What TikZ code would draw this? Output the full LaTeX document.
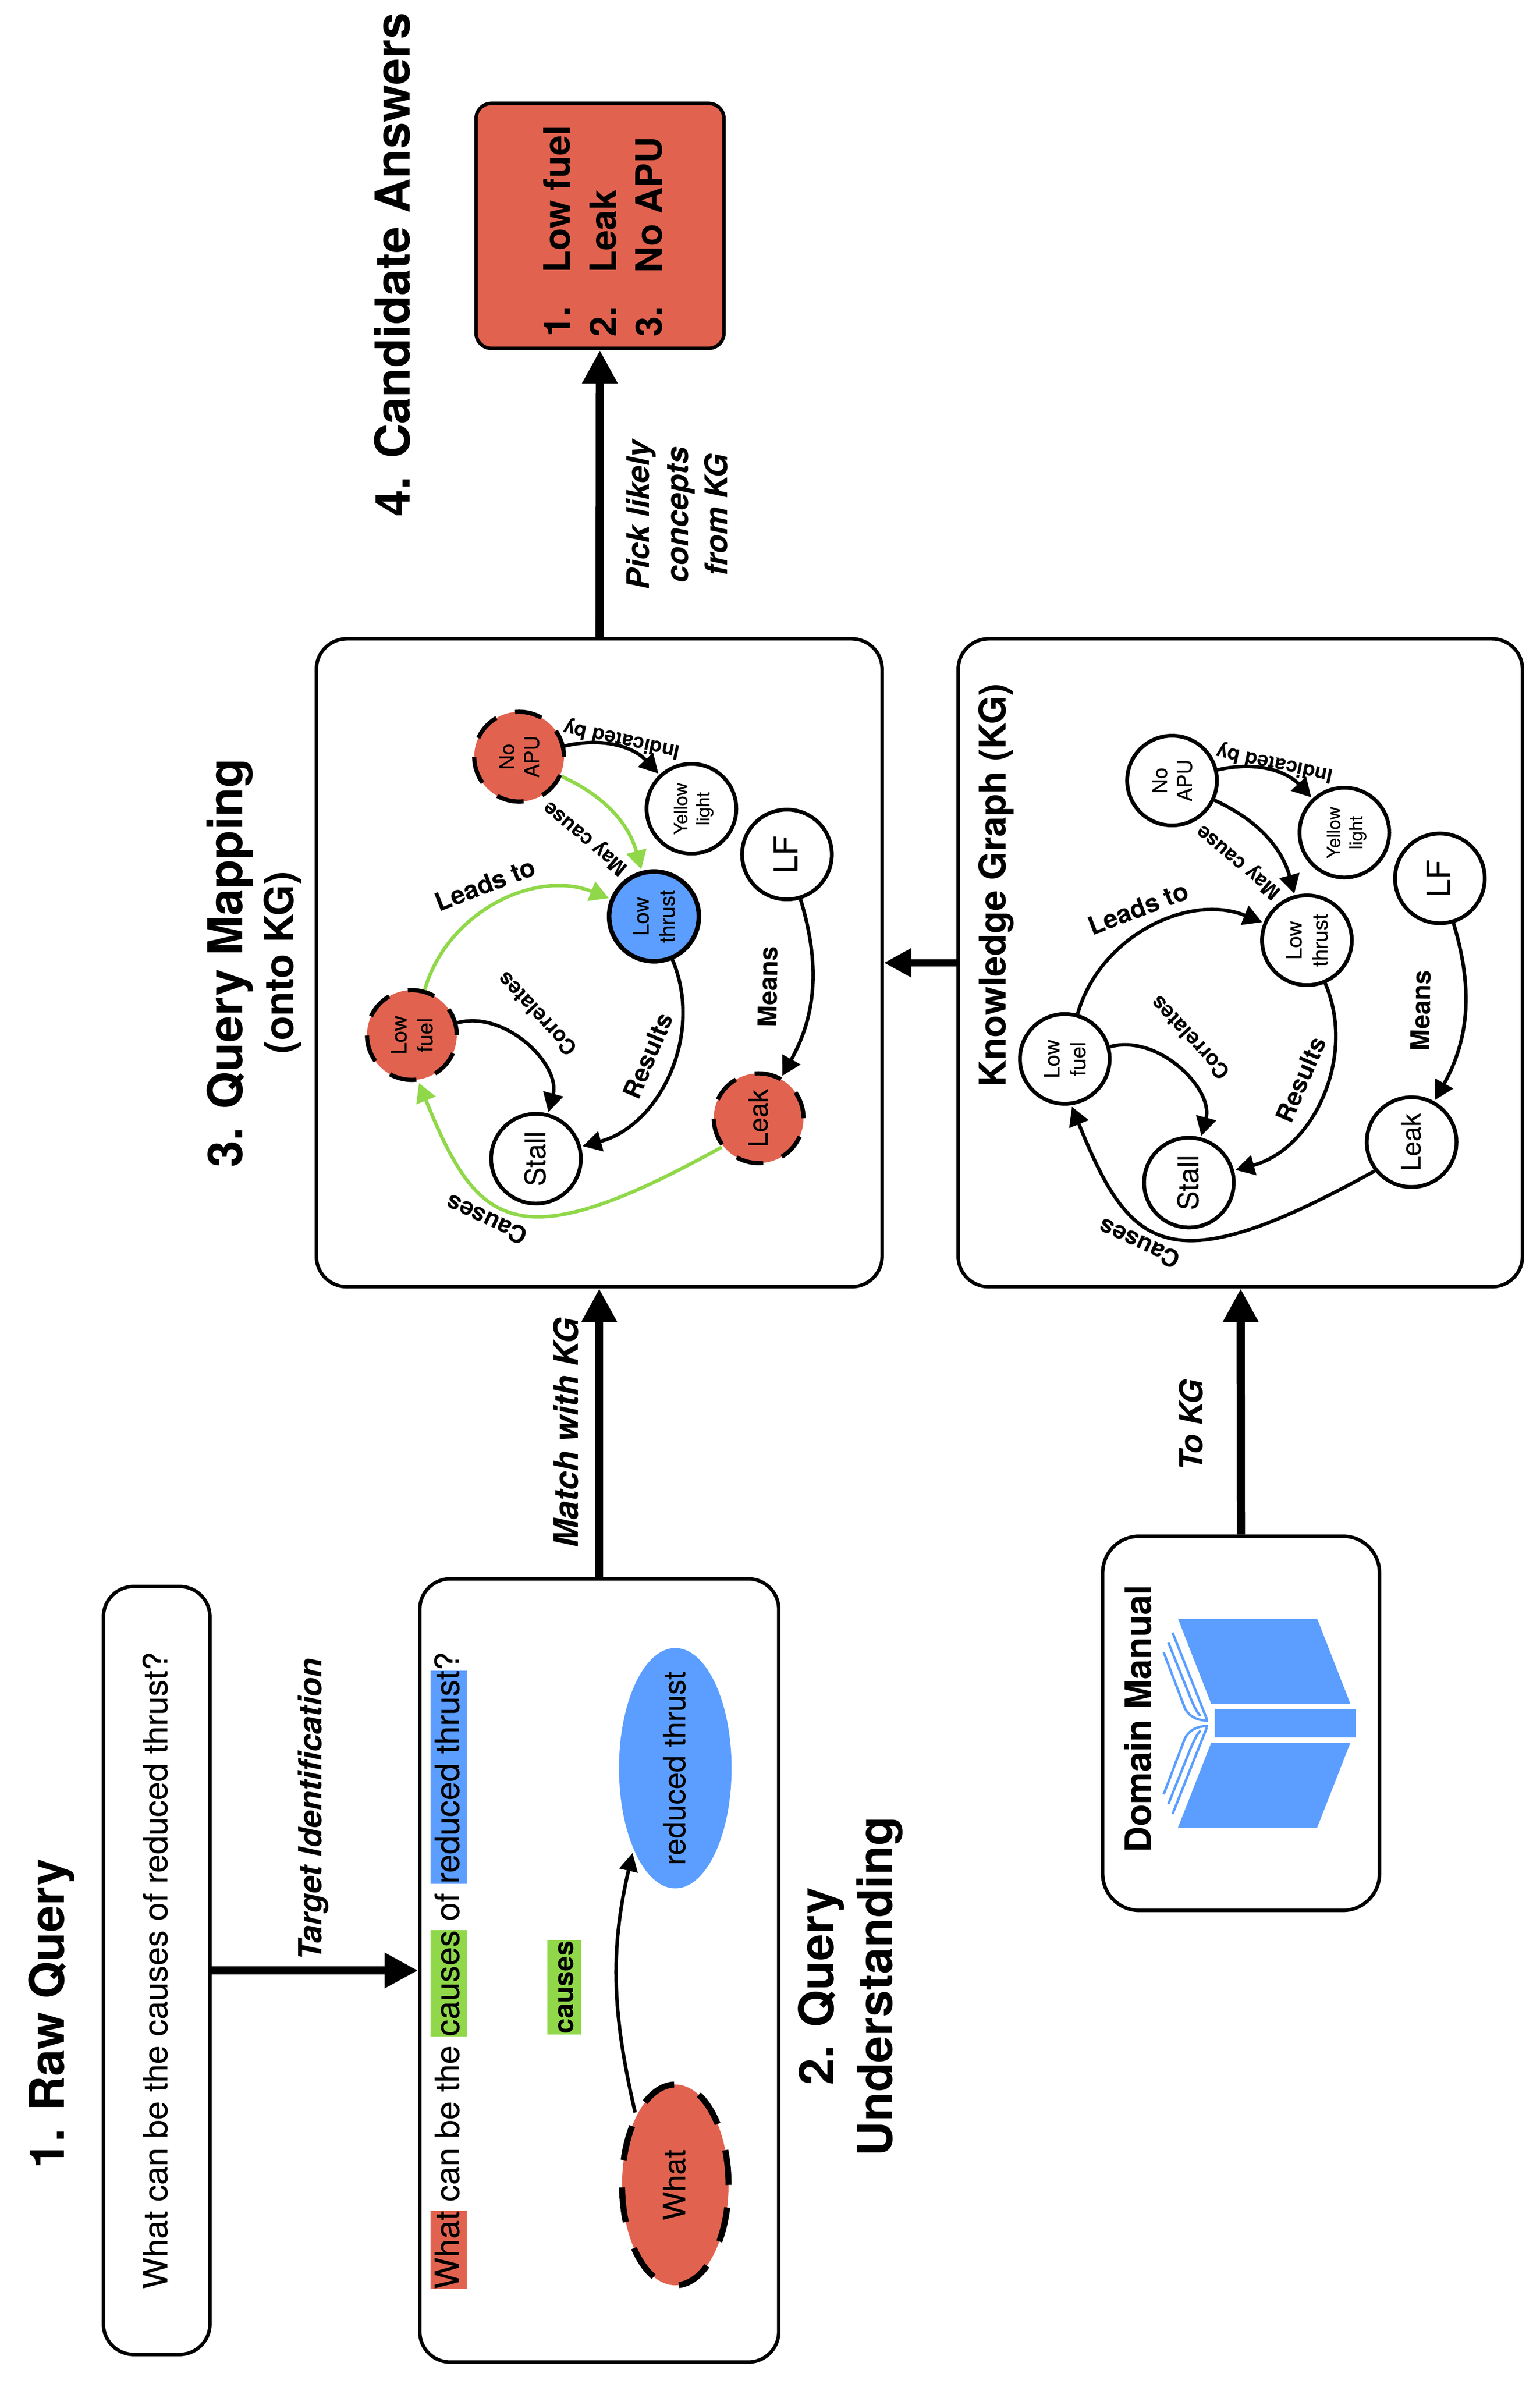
\documentclass[tikz,border=0pt]{standalone}
\usepackage{graphicx}
\usepackage{fontspec}
\setmainfont{TeX Gyre Heros}[UprightFeatures={FakeBold=0.2}]
\usetikzlibrary{automata,shapes.geometric,arrows.meta}
\definecolor{tred}{HTML}{E1634F}
\definecolor{tblue}{HTML}{5B9EFF}
\definecolor{tgreen}{HTML}{90D84A}
% text turned by a quarter, the node itself stays upright
\newcommand{\vtext}[1]{\hspace{1.6pt}\rotatebox{90}{\begin{tabular}{@{}c@{}}#1\end{tabular}}}
% same, but takes no room, so that the node keeps its given size
\newcommand{\ztext}[1]{\makebox[0pt][c]{\raisebox{-.5\height}[0pt][0pt]{\vtext{#1}}}}
\newcommand{\hlite}[2]{{\setlength{\fboxsep}{0pt}\colorbox{#1}{\rule[-2.6pt]{0pt}{12pt}#2}}}
\newcommand{\fsize}[1]{\fontsize{#1pt}{1.22\dimexpr#1pt\relax}\selectfont}

\begin{document}
\begin{tikzpicture}[x=0.5pt,y=0.5pt,->,>={Triangle[length=6.2pt,width=6.6pt]},shorten >=0.5pt,
                    line width=1.15pt]
\tikzstyle{every state}=[fill=none,draw=black,text=black,minimum size=29.5pt,inner sep=0pt,line width=1.25pt]
\tikzset{
  panel/.style={draw=black,rectangle,rounded corners=10pt,line width=1.15pt,inner sep=0pt},
  target/.style={fill=tred,dash pattern=on 9pt off 6.5pt,line width=1.4pt},
  hitedge/.style={draw=tgreen},
  bigarrow/.style={line width=2.7pt,shorten >=0pt,-{Triangle[length=11pt,width=11pt]}},
  title/.style={rotate=90,align=center,font=\fsize{15.8}\bfseries},
  steplabel/.style={rotate=90,align=center,font=\fsize{10.5}\bfseries\itshape},
  leadslabel/.style={font=\fsize{8.4}\bfseries},
  maylabel/.style={font=\fsize{6.7}\bfseries},
  resultlabel/.style={font=\fsize{8.2}\bfseries},
  meanslabel/.style={font=\fsize{8.5}\bfseries},
  causeslabel/.style={font=\fsize{8}\bfseries},
  corrlabel/.style={font=\fsize{7}\bfseries},
}
\useasboundingbox (0,0) rectangle (1012.5,-1567.4);

% panels
\node[panel,minimum width=35pt,minimum height=252.5pt] (raw) at (103,-1295.5)
  {\fsize{11}\vtext{What can be the causes of reduced thrust?}};
\node[panel,minimum width=118pt,minimum height=257.5pt] (understand) at (394,-1295.5) {};
\node[panel,minimum width=186pt,minimum height=213pt] (mapping) at (394,-633) {};
\node[panel,minimum width=185.5pt,minimum height=213pt] (graph) at (815.5,-633) {};
\node[panel,rounded corners=12pt,minimum width=91pt,minimum height=123pt] (manual) at (816,-1133) {};
\node[panel,rounded corners=5pt,fill=tred,minimum width=81.5pt,minimum height=80.5pt] (answers) at (394.5,-148.5) {};

% titles
\node[title] (rawtitle) at (34,-1324) {1. Raw Query};
\node[title] (understandtitle) at (559,-1306) {2. Query\\Understanding};
\node[title,align=center] (mappingtitle) at (167,-633) {3. Query Mapping\\[-2.6pt]{\fsize{13.2}(onto KG)}};
\node[title] (answerstitle) at (258,-174) {4. Candidate Answers};
\node[title,font=\fsize{12.1}\bfseries] (graphtitle) at (655,-582) {Knowledge Graph (KG)};
\node[title,font=\fsize{11.9}\bfseries] (manualtitle) at (748,-1130) {Domain Manual};

% step labels
\node[steplabel] (targetlabel) at (206,-1189.5) {Target Identification};
\node[steplabel,font=\fsize{11}\bfseries\itshape] (matchlabel) at (372,-942) {Match with KG};
\node[steplabel] (tokglabel) at (783,-937) {To KG};
\node[steplabel,font=\fsize{10.2}\bfseries\itshape] (picklabel) at (445,-338.5) {Pick likely\\[0.4pt]concepts\\[0.4pt]from KG};

% query understanding
\node[inner sep=0pt] (query) at (295,-1295.5) {\fsize{11}\rotatebox{90}{\hlite{tred}{What} can be the \hlite{tgreen}{causes} of \hlite{tblue}{reduced thrust}?}};
\node[fill=tgreen,minimum width=11pt,minimum height=31pt,inner sep=0pt] (causes) at (371,-1306.5) {\fsize{9}\bfseries\ztext{causes}};
\node[ellipse,fill=tblue,minimum width=37pt,minimum height=79pt,inner sep=0pt] (reduced) at (444,-1162.5) {\fsize{10}\ztext{reduced thrust}};
\node[ellipse,draw=black,fill=tred,line width=2pt,dash pattern=on 11.5pt off 9pt,minimum width=35pt,minimum height=66pt,inner sep=0pt] (what) at (444,-1436.5) {\fsize{10}\ztext{What}};

% answers
\node[rotate=90,align=left,font=\fsize{12}\bfseries,inner sep=0pt] (answerlist) at (396.5,-152)
  {\makebox[21pt][l]{1.}Low fuel\\[0.5pt]\makebox[21pt][l]{2.}Leak\\[0.5pt]\makebox[21pt][l]{3.}No APU};

% book
\path[-,fill=tblue,shorten >=0pt]
  (774.5,-1064.2) -- (866,-1064.2) -- (887.8,-1120) -- (796.3,-1120) -- cycle
  (798.6,-1123.5) rectangle (891.6,-1142.3)
  (796.3,-1145.9) -- (887.8,-1145.9) -- (866,-1201.6) -- (774.5,-1201.6) -- cycle;
\foreach \s/\o in {1/0,-1/2266}{
  \draw[-,draw=tblue,line width=0.8pt,shorten >=0pt,yscale=\s,yshift=\o*0.5pt]
    (771,-1073.5) -- (793.5,-1130.3)
    (768.2,-1080) -- (783.4,-1117.9) .. controls (785.5,-1122.5) and (787,-1126) .. (789.4,-1128.2)
    (765.1,-1086.3) -- (779.1,-1123.2) .. controls (782,-1128.5) and (787,-1131.2) .. (794.3,-1131.2);
}

% graph mapped on the query
\node[state,target] (noapum) at (341.3,-497.5) {\fsize{6.7}\vtext{No\\APU}};
\node[state] (yellowm) at (454.6,-531.7) {\fsize{6}\vtext{Yellow\\light}};
\node[state] (lfm) at (517.4,-561.8) {\fsize{10.7}\vtext{LF}};
\node[state,fill=tblue,line width=1.5pt] (thrustm) at (430,-602.5) {\fsize{7}\vtext{Low\\thrust}};
\node[state,target] (fuelm) at (270.8,-680.5) {\fsize{7}\vtext{Low\\fuel}};
\node[state] (stallm) at (352.4,-761.8) {\fsize{9.3}\vtext{Stall}};
\node[state,target] (leakm) at (498.8,-735.2) {\fsize{8.8}\vtext{Leak}};

\node[maylabel,rotate=168] (indicatedm) at (408.8,-485.8) {Indicated by};
\node[maylabel,rotate=140] (maym) at (385.3,-550.7) {May cause};
\node[leadslabel,rotate=21] (leadsm) at (319,-581.4) {Leads to};
\node[corrlabel,rotate=133] (corrm) at (353,-666.8) {Correlates};
\node[resultlabel,rotate=67] (resultsm) at (426,-694) {Results};
\node[meanslabel,rotate=89] (meansm) at (504.8,-648.7) {Means};
\node[causeslabel,rotate=155] (causesm) at (319.8,-802) {Causes};

\path[->]
  (noapum) edge [bend left=30] (yellowm)
  (noapum) edge [bend left=25,hitedge] (thrustm)
  (fuelm)  edge [bend left=48,hitedge] (thrustm)
  (fuelm)  edge [bend left=60] (stallm)
  (thrustm) edge [bend left=49] (stallm)
  (lfm)    edge [bend left=23] (leakm)
  (leakm.218)  edge [out=209,in=-68,out looseness=1.95,in looseness=1.3,hitedge] (fuelm.-82)
  ; %end path

% knowledge graph
\node[state] (noapuk) at (770.6,-513.2) {\fsize{6.7}\vtext{No\\APU}};
\node[state] (yellowk) at (883.9,-547.4) {\fsize{6}\vtext{Yellow\\light}};
\node[state] (lfk) at (946.7,-577.5) {\fsize{10.7}\vtext{LF}};
\node[state] (thrustk) at (859.3,-618.2) {\fsize{7}\vtext{Low\\thrust}};
\node[state] (fuelk) at (700.1,-696.2) {\fsize{7}\vtext{Low\\fuel}};
\node[state] (stallk) at (781.7,-777.5) {\fsize{9.3}\vtext{Stall}};
\node[state] (leakk) at (928.1,-750.9) {\fsize{8.8}\vtext{Leak}};

\node[maylabel,rotate=168] (indicatedk) at (838.1,-501.5) {Indicated by};
\node[maylabel,rotate=140] (mayk) at (814.6,-566.4) {May cause};
\node[leadslabel,rotate=21] (leadsk) at (748.3,-597.1) {Leads to};
\node[corrlabel,rotate=133] (corrk) at (782.3,-682.5) {Correlates};
\node[resultlabel,rotate=67] (resultsk) at (855.3,-709.7) {Results};
\node[meanslabel,rotate=89] (meansk) at (934.1,-664.4) {Means};
\node[causeslabel,rotate=155] (causesk) at (749.1,-817.7) {Causes};

\path[->]
  (noapuk) edge [bend left=30] (yellowk)
  (noapuk) edge [bend left=25] (thrustk)
  (fuelk)  edge [bend left=48] (thrustk)
  (fuelk)  edge [bend left=60] (stallk)
  (thrustk) edge [bend left=49] (stallk)
  (lfk)    edge [bend left=23] (leakk)
  (leakk.218)  edge [out=209,in=-68,out looseness=1.95,in looseness=1.3] (fuelk.-82)
  ; %end path

% connectors
\path[->]
  (what.119) edge [out=103,in=257,>={Triangle[length=6pt,width=6pt]}] (reduced.243)
  (raw) edge [bigarrow] (understand)
  (understand) edge [bigarrow] (mapping)
  (mapping) edge [bigarrow] (answers)
  (graph) edge [bigarrow,-{Triangle[length=9pt,width=9pt]},line width=2.4pt] (mapping)
  (manual) edge [bigarrow] (graph)
  ; %end path
\end{tikzpicture}
\end{document}
